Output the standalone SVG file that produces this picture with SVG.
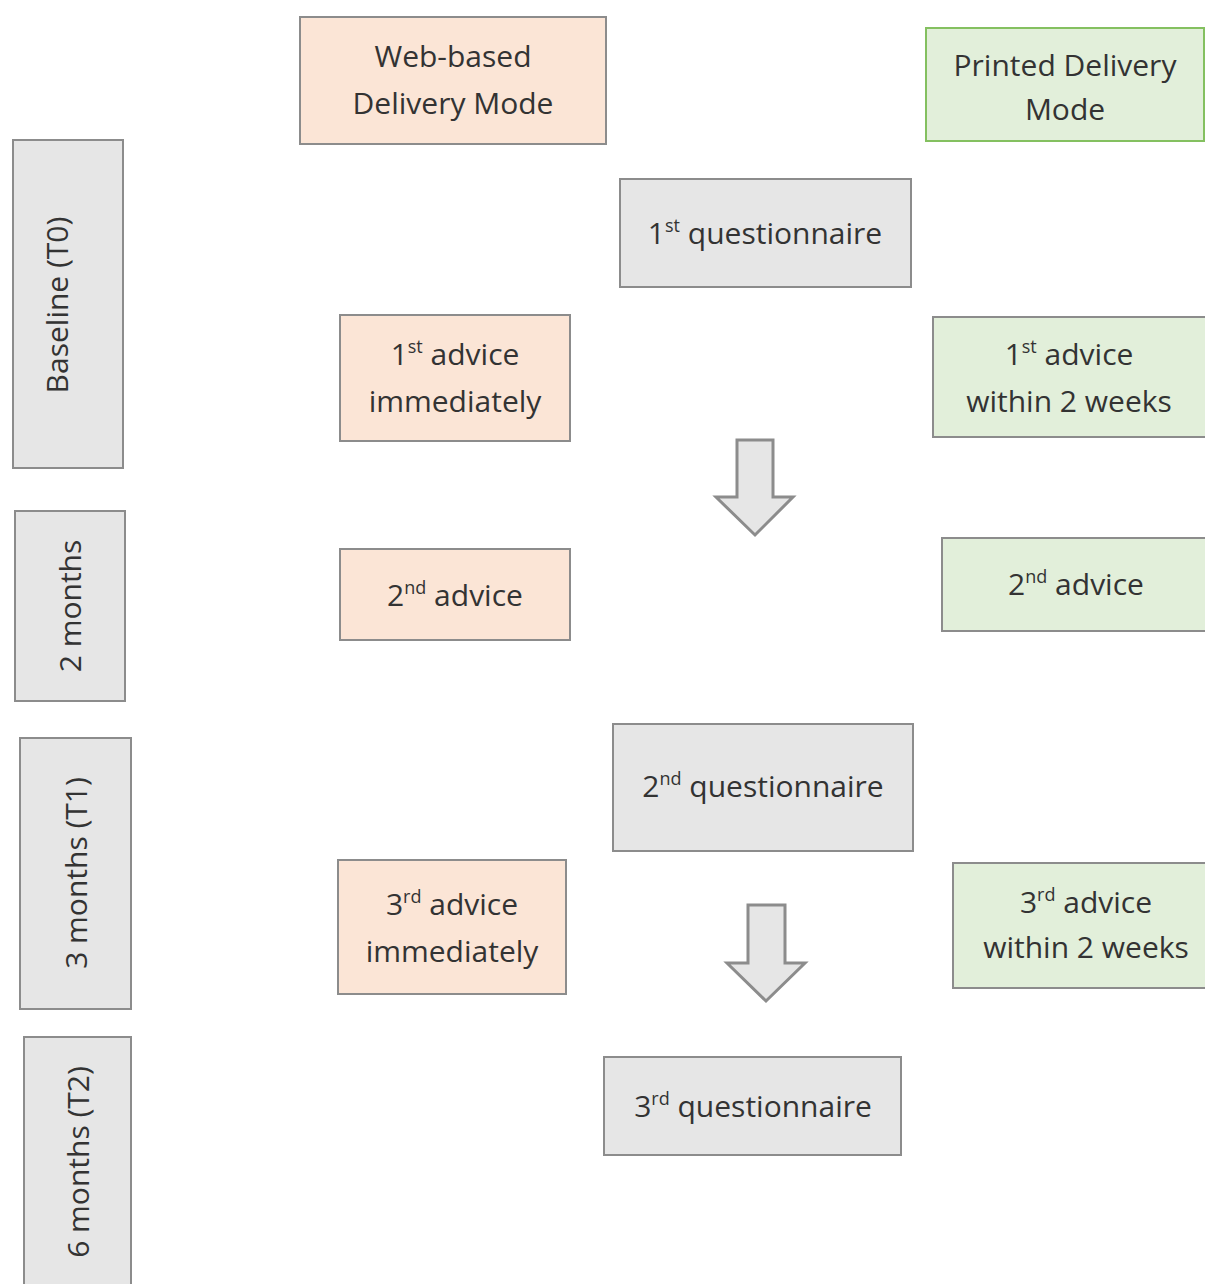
<svg xmlns="http://www.w3.org/2000/svg" width="1205" height="1284" viewBox="0 0 1205 1284">
<style>
text{font-family:"Open Sans","Liberation Sans",sans-serif;font-size:30px;fill:#333333;text-anchor:middle}
.peach{fill:#fbe5d6;stroke:#8c8c8c;stroke-width:2}
.green{fill:#e2efda;stroke:#8c8c8c;stroke-width:2}
.greenh{fill:#e2efda;stroke:#84c060;stroke-width:2}
.gray{fill:#e6e6e6;stroke:#8c8c8c;stroke-width:2}
.arrow{fill:#e6e6e6;stroke:#8c8c8c;stroke-width:3;stroke-linejoin:miter}
.sup{font-size:18px}
</style>
<rect width="1205" height="1284" fill="#ffffff"/>
<g id="web-mode"><rect class="peach" x="300" y="17" width="306" height="127"/><text x="453" y="67">Web-based</text><text x="453" y="114">Delivery Mode</text></g>
<g id="printed-mode"><rect class="greenh" x="926" y="28" width="278" height="113"/><text x="1065" y="76">Printed Delivery</text><text x="1065" y="120">Mode</text></g>
<g id="q1"><rect class="gray" x="620" y="179" width="291" height="108"/><text x="765" y="244">1<tspan class="sup" dy="-12">st</tspan><tspan dy="12"> questionnaire</tspan></text></g>
<g id="web-advice1"><rect class="peach" x="340" y="315" width="230" height="126"/><text x="455" y="365">1<tspan class="sup" dy="-12">st</tspan><tspan dy="12"> advice</tspan></text><text x="455" y="412">immediately</text></g>
<g id="print-advice1"><rect class="green" x="933" y="317" width="280" height="120"/><text x="1069" y="365">1<tspan class="sup" dy="-12">st</tspan><tspan dy="12"> advice</tspan></text><text x="1069" y="412">within 2 weeks</text></g>
<g id="web-advice2"><rect class="peach" x="340" y="549" width="230" height="91"/><text x="455" y="606">2<tspan class="sup" dy="-12">nd</tspan><tspan dy="12"> advice</tspan></text></g>
<g id="print-advice2"><rect class="green" x="942" y="538" width="272" height="93"/><text x="1076" y="595">2<tspan class="sup" dy="-12">nd</tspan><tspan dy="12"> advice</tspan></text></g>
<g id="q2"><rect class="gray" x="613" y="724" width="300" height="127"/><text x="763" y="797">2<tspan class="sup" dy="-12">nd</tspan><tspan dy="12"> questionnaire</tspan></text></g>
<g id="web-advice3"><rect class="peach" x="338" y="860" width="228" height="134"/><text x="452" y="915">3<tspan class="sup" dy="-12">rd</tspan><tspan dy="12"> advice</tspan></text><text x="452" y="962">immediately</text></g>
<g id="print-advice3"><rect class="green" x="953" y="863" width="262" height="125"/><text x="1086" y="913">3<tspan class="sup" dy="-12">rd</tspan><tspan dy="12"> advice</tspan></text><text x="1086" y="958">within 2 weeks</text></g>
<g id="q3"><rect class="gray" x="604" y="1057" width="297" height="98"/><text x="753" y="1117">3<tspan class="sup" dy="-12">rd</tspan><tspan dy="12"> questionnaire</tspan></text></g>
<g id="t0"><rect class="gray" x="13" y="140" width="110" height="328"/><text transform="translate(68 305) rotate(-90)">Baseline (T0)</text></g>
<g id="t2m"><rect class="gray" x="15" y="511" width="110" height="190"/><text transform="translate(81 606) rotate(-90)">2 months</text></g>
<g id="t1"><rect class="gray" x="20" y="738" width="111" height="271"/><text transform="translate(87 873) rotate(-90)">3 months (T1)</text></g>
<g id="t6m"><rect class="gray" x="24" y="1037" width="107" height="260"/><text transform="translate(89 1162) rotate(-90)">6 months (T2)</text></g>
<g id="connectors">
<polygon class="arrow" points="737,440 773,440 773,497 793,497 755,535 716,497 737,497"/>
<polygon class="arrow" points="748,905 785,905 785,963 805,963 766,1001 727,963 748,963"/>
</g>
</svg>
